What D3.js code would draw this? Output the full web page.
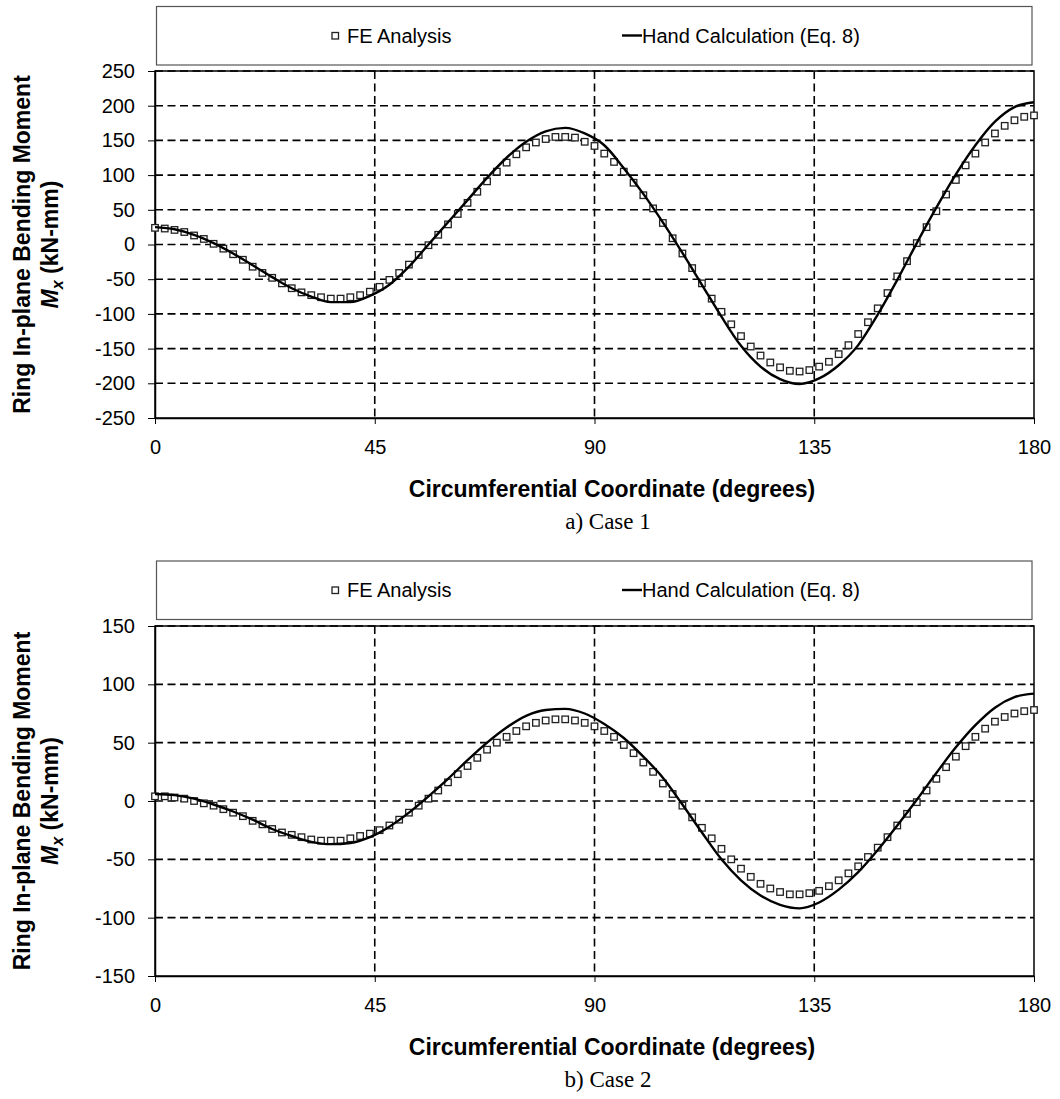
<!DOCTYPE html>
<meta charset="utf-8">
<script src="https://cdn.jsdelivr.net/npm/d3@7"></script>
<style>
  body { margin: 0; background: #fff; }
  svg { display: block; font-family: "Liberation Sans", Arial, sans-serif; }
</style>
<body>
<div id="chart"></div>
<script>

// ----- data
var degTicks = [0, 45, 90, 135, 180]
var case1Ticks = [-250, -200, -150, -100, -50, 0, 50, 100, 150, 200, 250]
var case2Ticks = [-150, -100, -50, 0, 50, 100, 150]

// FE points every 2 degrees
var feDeg = [0, 2, 4, 6, 8, 10, 12, 14, 16, 18, 20, 22, 24, 26, 28, 30, 32, 34, 36, 38,
  40, 42, 44, 46, 48, 50, 52, 54, 56, 58, 60, 62, 64, 66, 68, 70, 72, 74, 76, 78,
  80, 82, 84, 86, 88, 90, 92, 94, 96, 98, 100, 102, 104, 106, 108, 110, 112, 114, 116, 118,
  120, 122, 124, 126, 128, 130, 132, 134, 136, 138, 140, 142, 144, 146, 148, 150, 152, 154, 156, 158,
  160, 162, 164, 166, 168, 170, 172, 174, 176, 178, 180]

var case1Fe = [24, 23, 21, 18, 13, 8, 1, -6, -14, -22, -32, -41, -48, -56, -63, -69, -73, -76, -78, -78,
  -76, -73, -68, -61, -51, -41, -29, -15, -1, 14, 29, 44, 60, 76, 91, 105, 118, 130, 140, 147,
  152, 155, 155, 154, 148, 142, 131, 119, 105, 89, 71, 52, 31, 9, -13, -34, -56, -78, -97, -115,
  -132, -147, -160, -170, -177, -182, -183, -181, -176, -169, -158, -145, -129, -112, -92, -70, -46, -24, 2, 25,
  48, 72, 93, 114, 131, 147, 160, 171, 179, 184, 186]

var case2Fe = [4, 4, 3, 2, 0, -2, -4, -7, -10, -13, -17, -20, -24, -27, -29, -31, -33, -34, -34, -34,
  -32, -30, -28, -25, -21, -16, -10, -4, 2, 9, 16, 23, 30, 37, 44, 50, 55, 60, 64, 67,
  69, 70, 70, 69, 67, 64, 60, 55, 48, 41, 33, 25, 15, 6, -4, -14, -23, -32, -41, -50,
  -58, -65, -71, -75, -78, -80, -80, -79, -77, -73, -68, -62, -56, -48, -40, -31, -21, -11, -1, 9,
  19, 29, 38, 47, 55, 62, 68, 72, 75, 77, 78]

// hand calculation curve, read every 4 degrees
var handDeg = [0, 4, 8, 12, 16, 20, 24, 28, 32, 36, 40, 44, 48, 52, 56, 60, 64, 68, 72, 76,
  80, 84, 88, 92, 96, 100, 104, 108, 112, 116, 120, 124, 128, 132, 136, 140, 144, 148, 152, 156,
  160, 164, 168, 172, 176, 180]

var case1Hand = [25, 22, 14, 2, -13, -30, -47, -63, -75, -83, -83, -74, -58, -32, 0, 32, 64, 96, 125, 148,
  163, 168, 160, 143, 110, 73, 32, -12, -58, -104, -146, -176, -194, -201, -193, -174, -145, -101, -51, 2,
  53, 101, 143, 177, 198, 205]

var case2Hand = [6, 5, 2, -3, -9, -16, -24, -30, -35, -37, -36, -31, -22, -10, 4, 19, 35, 50, 63, 73,
  78, 79, 75, 66, 54, 38, 20, -3, -27, -50, -68, -81, -89, -92, -87, -76, -61, -42, -21, 1,
  24, 46, 65, 80, 89, 92]

var legendLabels = ["FE Analysis", "Hand Calculation (Eq. 8)"]
var xTitle = "Circumferential Coordinate (degrees)"

var svg = d3.select("#chart").append("svg")
  .attr("width", 1060)
  .attr("height", 1099)

function drawPanel(p) {
  var left = 155, right = 1034
  var x = d3.scaleLinear().domain([0, 180]).range([left, right])
  var y = d3.scaleLinear().domain(p.yDomain).range([p.bottom, p.top])
  var g = svg.append("g")

  // legend box
  g.append("rect")
    .attr("x", 156.5).attr("y", p.legendTop)
    .attr("width", 875.5).attr("height", 58.5)
    .attr("fill", "#fff").attr("stroke", "#555").attr("stroke-width", 1.2)
  var ly = p.legendTop + 36
  g.append("rect")
    .attr("x", 332).attr("y", ly - 10).attr("width", 6.5).attr("height", 6.5)
    .attr("fill", "#fff").attr("stroke", "#222").attr("stroke-width", 1.3)
  g.append("text").attr("x", 347).attr("y", ly)
    .style("font-size", "20px").text(legendLabels[0])
  g.append("line")
    .attr("x1", 622).attr("x2", 642).attr("y1", ly - 7).attr("y2", ly - 7)
    .attr("stroke", "#000").attr("stroke-width", 2.4)
  g.append("text").attr("x", 642).attr("y", ly)
    .style("font-size", "20px").text(legendLabels[1])

  // plot frame
  g.append("rect")
    .attr("x", left).attr("y", p.top)
    .attr("width", right - left).attr("height", p.bottom - p.top)
    .attr("fill", "none").attr("stroke", "#000").attr("stroke-width", 1.5)

  // dashed grid
  g.selectAll(".hgrid").data(p.ticks.slice(1)).enter().append("line")
    .attr("x1", left).attr("x2", right)
    .attr("y1", function(d) { return y(d) }).attr("y2", function(d) { return y(d) })
    .attr("stroke", "#000").attr("stroke-width", 1.6).attr("stroke-dasharray", "8,4.5")
  g.selectAll(".vgrid").data([45, 90, 135]).enter().append("line")
    .attr("x1", function(d) { return x(d) }).attr("x2", function(d) { return x(d) })
    .attr("y1", p.top).attr("y2", p.bottom)
    .attr("stroke", "#000").attr("stroke-width", 1.6).attr("stroke-dasharray", "8,4.5")

  // axes (plain hyphen for negatives, like the original)
  var ya = g.append("g").attr("transform", "translate(" + left + ",0)")
    .call(d3.axisLeft(y).tickValues(p.ticks).tickFormat(String)
      .tickSize(7).tickSizeOuter(0).tickPadding(13))
  ya.select(".domain").attr("stroke-width", 1.5)
  ya.selectAll("text").style("font-size", "20px").attr("fill", "#000")
  var xa = g.append("g").attr("transform", "translate(0," + p.bottom + ")")
    .call(d3.axisBottom(x).tickValues(degTicks).tickSize(6).tickSizeOuter(0).tickPadding(16))
  xa.select(".domain").attr("stroke-width", 1.5)
  xa.selectAll("text").style("font-size", "20px").attr("fill", "#000")

  // FE markers
  g.selectAll(".fe").data(feDeg).enter().append("rect")
    .attr("x", function(d) { return x(d) - 3.25 })
    .attr("y", function(d, i) { return y(p.fe[i]) - 3.25 })
    .attr("width", 6.5).attr("height", 6.5)
    .attr("fill", "#fff").attr("stroke", "#222").attr("stroke-width", 1.3)

  // hand calculation line
  var line = d3.line()
    .x(function(d) { return x(d) })
    .y(function(d, i) { return y(p.hand[i]) })
    .curve(d3.curveMonotoneX)
  g.append("path").datum(handDeg)
    .attr("d", line)
    .attr("fill", "none").attr("stroke", "#000").attr("stroke-width", 2.4)

  // titles
  var midY = (p.top + p.bottom) / 2
  g.append("text")
    .attr("transform", "translate(30," + midY + ") rotate(-90)")
    .attr("text-anchor", "middle")
    .style("font-size", "23px").style("font-weight", "bold")
    .text("Ring In-plane Bending Moment")
  var t2 = g.append("text")
    .attr("transform", "translate(58," + midY + ") rotate(-90)")
    .attr("text-anchor", "middle")
    .style("font-size", "23px").style("font-weight", "bold")
  t2.append("tspan").style("font-style", "italic").text("M")
  t2.append("tspan").style("font-style", "italic").style("font-size", "16px")
    .attr("dy", 5).text("x")
  t2.append("tspan").attr("dy", -5).text(" (kN-mm)")

  g.append("text")
    .attr("x", 612).attr("y", p.bottom + 79)
    .attr("text-anchor", "middle")
    .style("font-size", "23px").style("font-weight", "bold")
    .text(xTitle)
  g.append("text")
    .attr("x", 608).attr("y", p.bottom + 111)
    .attr("text-anchor", "middle")
    .style("font-family", "'Liberation Serif', serif")
    .style("font-size", "23px")
    .text(p.caption)
}

drawPanel({ legendTop: 6.5, top: 71, bottom: 418, yDomain: [-250, 250], ticks: case1Ticks,
  fe: case1Fe, hand: case1Hand, caption: "a) Case 1" })
drawPanel({ legendTop: 561, top: 626, bottom: 976, yDomain: [-150, 150], ticks: case2Ticks,
  fe: case2Fe, hand: case2Hand, caption: "b) Case 2" })

</script>
</body>
